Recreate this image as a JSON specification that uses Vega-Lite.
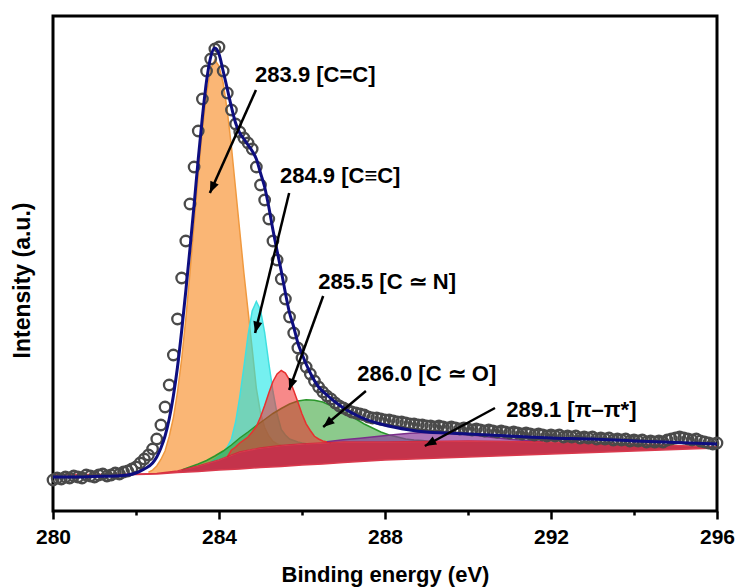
{
  "$schema": "https://vega.github.io/schema/vega-lite/v6.json",
  "width": 664,
  "height": 495,
  "autosize": {"type": "none"},
  "padding": {"left": 53, "top": 16, "right": 19, "bottom": 76},
  "config": {
    "view": {"stroke": "black", "strokeWidth": 3},
    "font": "Liberation Sans, Arial, sans-serif",
    "background": "white"
  },
  "datasets": {
    "bands": [
      {"s": "bg", "x": 280.0, "lo": 36, "hi": 36.5},
      {"s": "bg", "x": 281.0, "lo": 36, "hi": 36.5},
      {"s": "bg", "x": 282.0, "lo": 36.5, "hi": 37},
      {"s": "bg", "x": 282.5, "lo": 37, "hi": 37.5},
      {"s": "bg", "x": 283.0, "lo": 38.5, "hi": 40},
      {"s": "bg", "x": 283.5, "lo": 39.5, "hi": 45},
      {"s": "bg", "x": 284.0, "lo": 41, "hi": 51},
      {"s": "bg", "x": 284.5, "lo": 42, "hi": 59},
      {"s": "bg", "x": 285.0, "lo": 43.5, "hi": 63},
      {"s": "bg", "x": 285.5, "lo": 44.5, "hi": 65.5},
      {"s": "bg", "x": 286.0, "lo": 46, "hi": 67},
      {"s": "bg", "x": 286.5, "lo": 47, "hi": 68},
      {"s": "bg", "x": 287.0, "lo": 48.5, "hi": 69},
      {"s": "bg", "x": 288.0, "lo": 51, "hi": 69},
      {"s": "bg", "x": 289.0, "lo": 52.5, "hi": 69.5},
      {"s": "bg", "x": 290.0, "lo": 54, "hi": 70},
      {"s": "bg", "x": 291.0, "lo": 55.5, "hi": 69.5},
      {"s": "bg", "x": 292.0, "lo": 57, "hi": 69},
      {"s": "bg", "x": 293.0, "lo": 58.5, "hi": 68},
      {"s": "bg", "x": 294.0, "lo": 60, "hi": 67},
      {"s": "bg", "x": 295.0, "lo": 61.5, "hi": 65.5},
      {"s": "bg", "x": 296.0, "lo": 63, "hi": 64},

      {"s": "c1", "x": 282.3, "lo": 36.8, "hi": 38.8},
      {"s": "c1", "x": 282.4, "lo": 36.9, "hi": 40.9},
      {"s": "c1", "x": 282.5, "lo": 37, "hi": 45},
      {"s": "c1", "x": 282.6, "lo": 37.5, "hi": 51.5},
      {"s": "c1", "x": 282.7, "lo": 38, "hi": 60},
      {"s": "c1", "x": 282.8, "lo": 38.5, "hi": 74.5},
      {"s": "c1", "x": 282.9, "lo": 39, "hi": 93},
      {"s": "c1", "x": 283.0, "lo": 40, "hi": 119},
      {"s": "c1", "x": 283.1, "lo": 41, "hi": 152},
      {"s": "c1", "x": 283.2, "lo": 42, "hi": 192},
      {"s": "c1", "x": 283.3, "lo": 43, "hi": 238},
      {"s": "c1", "x": 283.4, "lo": 44, "hi": 287},
      {"s": "c1", "x": 283.5, "lo": 45, "hi": 336},
      {"s": "c1", "x": 283.6, "lo": 46, "hi": 381},
      {"s": "c1", "x": 283.7, "lo": 47.5, "hi": 417.5},
      {"s": "c1", "x": 283.8, "lo": 49, "hi": 442},
      {"s": "c1", "x": 283.9, "lo": 50, "hi": 451},
      {"s": "c1", "x": 284.0, "lo": 51, "hi": 445},
      {"s": "c1", "x": 284.1, "lo": 53, "hi": 428},
      {"s": "c1", "x": 284.2, "lo": 54, "hi": 400},
      {"s": "c1", "x": 284.3, "lo": 56, "hi": 364},
      {"s": "c1", "x": 284.4, "lo": 57, "hi": 322},
      {"s": "c1", "x": 284.5, "lo": 59, "hi": 280},
      {"s": "c1", "x": 284.6, "lo": 60, "hi": 238},
      {"s": "c1", "x": 284.7, "lo": 61, "hi": 200},
      {"s": "c1", "x": 284.8, "lo": 62, "hi": 162},
      {"s": "c1", "x": 284.9, "lo": 62.5, "hi": 122.5},
      {"s": "c1", "x": 285.0, "lo": 63, "hi": 98},
      {"s": "c1", "x": 285.1, "lo": 63.5, "hi": 83.5},
      {"s": "c1", "x": 285.2, "lo": 64, "hi": 75},
      {"s": "c1", "x": 285.3, "lo": 64.5, "hi": 69.5},
      {"s": "c1", "x": 285.4, "lo": 65, "hi": 67},
      {"s": "c1", "x": 285.5, "lo": 65.5, "hi": 65.5},

      {"s": "c2", "x": 283.8, "lo": 49, "hi": 49},
      {"s": "c2", "x": 283.9, "lo": 50, "hi": 52},
      {"s": "c2", "x": 284.0, "lo": 51, "hi": 55},
      {"s": "c2", "x": 284.1, "lo": 53, "hi": 59},
      {"s": "c2", "x": 284.2, "lo": 54, "hi": 64},
      {"s": "c2", "x": 284.3, "lo": 56, "hi": 72},
      {"s": "c2", "x": 284.4, "lo": 57, "hi": 89},
      {"s": "c2", "x": 284.5, "lo": 59, "hi": 114},
      {"s": "c2", "x": 284.6, "lo": 60, "hi": 144},
      {"s": "c2", "x": 284.7, "lo": 61, "hi": 176},
      {"s": "c2", "x": 284.8, "lo": 62, "hi": 200},
      {"s": "c2", "x": 284.9, "lo": 62.5, "hi": 209.5},
      {"s": "c2", "x": 285.0, "lo": 63, "hi": 201},
      {"s": "c2", "x": 285.1, "lo": 63.5, "hi": 178.5},
      {"s": "c2", "x": 285.2, "lo": 64, "hi": 148},
      {"s": "c2", "x": 285.3, "lo": 64.5, "hi": 119.5},
      {"s": "c2", "x": 285.4, "lo": 65, "hi": 97},
      {"s": "c2", "x": 285.5, "lo": 65.5, "hi": 81.5},
      {"s": "c2", "x": 285.6, "lo": 66, "hi": 76},
      {"s": "c2", "x": 285.7, "lo": 66, "hi": 72},
      {"s": "c2", "x": 285.8, "lo": 66.5, "hi": 70.5},
      {"s": "c2", "x": 285.9, "lo": 67, "hi": 69},
      {"s": "c2", "x": 286.0, "lo": 67, "hi": 68},
      {"s": "c2", "x": 286.1, "lo": 67.2, "hi": 67.2},

      {"s": "c4", "x": 283.1, "lo": 41, "hi": 41},
      {"s": "c4", "x": 283.3, "lo": 43, "hi": 44},
      {"s": "c4", "x": 283.5, "lo": 45, "hi": 47},
      {"s": "c4", "x": 283.7, "lo": 47.5, "hi": 50.5},
      {"s": "c4", "x": 283.9, "lo": 50, "hi": 55},
      {"s": "c4", "x": 284.1, "lo": 53, "hi": 60},
      {"s": "c4", "x": 284.3, "lo": 56, "hi": 66},
      {"s": "c4", "x": 284.5, "lo": 59, "hi": 73},
      {"s": "c4", "x": 284.7, "lo": 61, "hi": 79},
      {"s": "c4", "x": 284.9, "lo": 62.5, "hi": 85.5},
      {"s": "c4", "x": 285.1, "lo": 63.5, "hi": 91.5},
      {"s": "c4", "x": 285.3, "lo": 64.5, "hi": 97.5},
      {"s": "c4", "x": 285.5, "lo": 65.5, "hi": 102.5},
      {"s": "c4", "x": 285.7, "lo": 66, "hi": 107},
      {"s": "c4", "x": 285.9, "lo": 67, "hi": 110},
      {"s": "c4", "x": 286.1, "lo": 67.2, "hi": 111.2},
      {"s": "c4", "x": 286.3, "lo": 67.7, "hi": 110.7},
      {"s": "c4", "x": 286.5, "lo": 68, "hi": 109},
      {"s": "c4", "x": 286.7, "lo": 68.2, "hi": 105.2},
      {"s": "c4", "x": 286.9, "lo": 68.7, "hi": 101.7},
      {"s": "c4", "x": 287.1, "lo": 69, "hi": 97},
      {"s": "c4", "x": 287.3, "lo": 69, "hi": 92},
      {"s": "c4", "x": 287.5, "lo": 69, "hi": 87},
      {"s": "c4", "x": 287.7, "lo": 69, "hi": 83},
      {"s": "c4", "x": 287.9, "lo": 69, "hi": 79},
      {"s": "c4", "x": 288.1, "lo": 69, "hi": 76},
      {"s": "c4", "x": 288.3, "lo": 69, "hi": 74},
      {"s": "c4", "x": 288.5, "lo": 69, "hi": 72},
      {"s": "c4", "x": 288.7, "lo": 69, "hi": 71},
      {"s": "c4", "x": 288.9, "lo": 69.5, "hi": 70.5},
      {"s": "c4", "x": 289.1, "lo": 69.5, "hi": 69.5},

      {"s": "c3", "x": 284.2, "lo": 54, "hi": 54},
      {"s": "c3", "x": 284.3, "lo": 56, "hi": 61},
      {"s": "c3", "x": 284.4, "lo": 57, "hi": 64},
      {"s": "c3", "x": 284.5, "lo": 59, "hi": 68},
      {"s": "c3", "x": 284.6, "lo": 60, "hi": 71},
      {"s": "c3", "x": 284.7, "lo": 61, "hi": 74},
      {"s": "c3", "x": 284.8, "lo": 62, "hi": 79},
      {"s": "c3", "x": 284.9, "lo": 62.5, "hi": 84.5},
      {"s": "c3", "x": 285.0, "lo": 63, "hi": 94},
      {"s": "c3", "x": 285.1, "lo": 63.5, "hi": 105.5},
      {"s": "c3", "x": 285.2, "lo": 64, "hi": 118},
      {"s": "c3", "x": 285.3, "lo": 64.5, "hi": 129.5},
      {"s": "c3", "x": 285.4, "lo": 65, "hi": 137},
      {"s": "c3", "x": 285.5, "lo": 65.5, "hi": 140.5},
      {"s": "c3", "x": 285.6, "lo": 66, "hi": 138},
      {"s": "c3", "x": 285.7, "lo": 66, "hi": 131},
      {"s": "c3", "x": 285.8, "lo": 66.5, "hi": 120.5},
      {"s": "c3", "x": 285.9, "lo": 67, "hi": 109},
      {"s": "c3", "x": 286.0, "lo": 67, "hi": 97},
      {"s": "c3", "x": 286.1, "lo": 67.2, "hi": 87.2},
      {"s": "c3", "x": 286.2, "lo": 67.5, "hi": 80.5},
      {"s": "c3", "x": 286.3, "lo": 67.7, "hi": 74.7},
      {"s": "c3", "x": 286.4, "lo": 68, "hi": 72},
      {"s": "c3", "x": 286.5, "lo": 68, "hi": 70},
      {"s": "c3", "x": 286.7, "lo": 68.2, "hi": 68.2},

      {"s": "c5", "x": 286.6, "lo": 68, "hi": 69.2},
      {"s": "c5", "x": 287.0, "lo": 69, "hi": 71.2},
      {"s": "c5", "x": 287.4, "lo": 69, "hi": 72.7},
      {"s": "c5", "x": 287.8, "lo": 69, "hi": 74.5},
      {"s": "c5", "x": 288.2, "lo": 69, "hi": 76.2},
      {"s": "c5", "x": 288.6, "lo": 69.3, "hi": 77.8},
      {"s": "c5", "x": 289.0, "lo": 69.5, "hi": 78.5},
      {"s": "c5", "x": 289.4, "lo": 69.7, "hi": 78.2},
      {"s": "c5", "x": 289.8, "lo": 69.9, "hi": 77.1},
      {"s": "c5", "x": 290.2, "lo": 70, "hi": 75.5},
      {"s": "c5", "x": 290.6, "lo": 69.8, "hi": 73.5},
      {"s": "c5", "x": 291.0, "lo": 69.5, "hi": 71.7},
      {"s": "c5", "x": 291.4, "lo": 69.4, "hi": 70.6},
      {"s": "c5", "x": 291.8, "lo": 69.2, "hi": 69.8}
    ],
    "env": [
      {"x": 280.0, "y": 34}, {"x": 280.5, "y": 34}, {"x": 281.0, "y": 34.5},
      {"x": 281.5, "y": 35}, {"x": 281.8, "y": 36}, {"x": 282.0, "y": 38},
      {"x": 282.2, "y": 42}, {"x": 282.4, "y": 48}, {"x": 282.5, "y": 54},
      {"x": 282.6, "y": 63}, {"x": 282.7, "y": 75}, {"x": 282.8, "y": 92},
      {"x": 282.9, "y": 115}, {"x": 283.0, "y": 144}, {"x": 283.1, "y": 180},
      {"x": 283.2, "y": 220}, {"x": 283.3, "y": 262}, {"x": 283.4, "y": 306},
      {"x": 283.5, "y": 352}, {"x": 283.6, "y": 394}, {"x": 283.7, "y": 430},
      {"x": 283.8, "y": 454}, {"x": 283.9, "y": 463}, {"x": 284.0, "y": 457},
      {"x": 284.1, "y": 440}, {"x": 284.2, "y": 422}, {"x": 284.3, "y": 404},
      {"x": 284.4, "y": 388}, {"x": 284.5, "y": 378}, {"x": 284.6, "y": 372},
      {"x": 284.7, "y": 366}, {"x": 284.8, "y": 360}, {"x": 284.9, "y": 352},
      {"x": 285.0, "y": 338}, {"x": 285.1, "y": 324}, {"x": 285.2, "y": 304},
      {"x": 285.3, "y": 281}, {"x": 285.4, "y": 260}, {"x": 285.5, "y": 240},
      {"x": 285.6, "y": 218}, {"x": 285.7, "y": 198}, {"x": 285.8, "y": 184},
      {"x": 285.9, "y": 168}, {"x": 286.0, "y": 157}, {"x": 286.2, "y": 138},
      {"x": 286.4, "y": 124}, {"x": 286.6, "y": 116}, {"x": 286.8, "y": 109},
      {"x": 287.0, "y": 103}, {"x": 287.4, "y": 94}, {"x": 287.8, "y": 88},
      {"x": 288.2, "y": 84}, {"x": 288.6, "y": 81}, {"x": 289.0, "y": 79},
      {"x": 289.5, "y": 78}, {"x": 290.0, "y": 77}, {"x": 290.5, "y": 76},
      {"x": 291.0, "y": 75}, {"x": 292.0, "y": 73}, {"x": 293.0, "y": 72},
      {"x": 294.0, "y": 70}, {"x": 295.0, "y": 68.5}, {"x": 296.0, "y": 67}
    ],
    "obs": [
      {"x": 280.0, "y": 31}, {"x": 280.1, "y": 33}, {"x": 280.2, "y": 32}, {"x": 280.3, "y": 34},
      {"x": 280.4, "y": 33}, {"x": 280.5, "y": 35}, {"x": 280.6, "y": 34}, {"x": 280.7, "y": 33},
      {"x": 280.8, "y": 36}, {"x": 280.9, "y": 35}, {"x": 281.0, "y": 34}, {"x": 281.1, "y": 36},
      {"x": 281.2, "y": 37}, {"x": 281.3, "y": 35}, {"x": 281.4, "y": 36}, {"x": 281.5, "y": 38},
      {"x": 281.6, "y": 37}, {"x": 281.7, "y": 39}, {"x": 281.8, "y": 40}, {"x": 281.9, "y": 42},
      {"x": 282.0, "y": 44}, {"x": 282.1, "y": 48}, {"x": 282.2, "y": 52}, {"x": 282.3, "y": 56},
      {"x": 282.4, "y": 62}, {"x": 282.5, "y": 72}, {"x": 282.6, "y": 86}, {"x": 282.7, "y": 104},
      {"x": 282.8, "y": 126}, {"x": 282.9, "y": 156}, {"x": 283.0, "y": 192}, {"x": 283.1, "y": 233},
      {"x": 283.2, "y": 270}, {"x": 283.3, "y": 307}, {"x": 283.4, "y": 344}, {"x": 283.5, "y": 380},
      {"x": 283.6, "y": 412}, {"x": 283.7, "y": 440}, {"x": 283.8, "y": 452}, {"x": 283.9, "y": 462},
      {"x": 284.0, "y": 464}, {"x": 284.1, "y": 440}, {"x": 284.2, "y": 418}, {"x": 284.3, "y": 401},
      {"x": 284.4, "y": 387}, {"x": 284.5, "y": 379}, {"x": 284.6, "y": 373}, {"x": 284.7, "y": 368},
      {"x": 284.8, "y": 362}, {"x": 284.9, "y": 344}, {"x": 285.0, "y": 326}, {"x": 285.1, "y": 311},
      {"x": 285.2, "y": 292}, {"x": 285.3, "y": 270}, {"x": 285.4, "y": 251}, {"x": 285.5, "y": 232},
      {"x": 285.6, "y": 212}, {"x": 285.7, "y": 194}, {"x": 285.8, "y": 178}, {"x": 285.9, "y": 163},
      {"x": 286.0, "y": 153}, {"x": 286.1, "y": 144}, {"x": 286.2, "y": 137}, {"x": 286.3, "y": 130},
      {"x": 286.4, "y": 124}, {"x": 286.5, "y": 119}, {"x": 286.6, "y": 115}, {"x": 286.7, "y": 112},
      {"x": 286.8, "y": 108}, {"x": 286.9, "y": 105}, {"x": 287.0, "y": 103}, {"x": 287.1, "y": 101},
      {"x": 287.2, "y": 99}, {"x": 287.3, "y": 98}, {"x": 287.4, "y": 97}, {"x": 287.5, "y": 96},
      {"x": 287.6, "y": 94}, {"x": 287.7, "y": 93}, {"x": 287.8, "y": 93}, {"x": 287.9, "y": 92},
      {"x": 288.0, "y": 91}, {"x": 288.1, "y": 91}, {"x": 288.2, "y": 90}, {"x": 288.3, "y": 89},
      {"x": 288.4, "y": 89}, {"x": 288.5, "y": 88}, {"x": 288.6, "y": 87}, {"x": 288.7, "y": 87},
      {"x": 288.8, "y": 86}, {"x": 288.9, "y": 86}, {"x": 289.0, "y": 85}, {"x": 289.1, "y": 85},
      {"x": 289.2, "y": 84}, {"x": 289.3, "y": 85}, {"x": 289.4, "y": 84}, {"x": 289.5, "y": 83},
      {"x": 289.6, "y": 84}, {"x": 289.7, "y": 83}, {"x": 289.8, "y": 82}, {"x": 289.9, "y": 83},
      {"x": 290.0, "y": 82}, {"x": 290.1, "y": 81}, {"x": 290.2, "y": 82}, {"x": 290.3, "y": 81},
      {"x": 290.4, "y": 80}, {"x": 290.5, "y": 81}, {"x": 290.6, "y": 80}, {"x": 290.7, "y": 79},
      {"x": 290.8, "y": 80}, {"x": 290.9, "y": 79}, {"x": 291.0, "y": 78}, {"x": 291.1, "y": 79},
      {"x": 291.2, "y": 78}, {"x": 291.3, "y": 77}, {"x": 291.4, "y": 78}, {"x": 291.5, "y": 77},
      {"x": 291.6, "y": 76}, {"x": 291.7, "y": 77}, {"x": 291.8, "y": 76}, {"x": 291.9, "y": 75},
      {"x": 292.0, "y": 76}, {"x": 292.1, "y": 75}, {"x": 292.2, "y": 76}, {"x": 292.3, "y": 74},
      {"x": 292.4, "y": 75}, {"x": 292.5, "y": 74}, {"x": 292.6, "y": 75}, {"x": 292.7, "y": 73},
      {"x": 292.8, "y": 74}, {"x": 292.9, "y": 73}, {"x": 293.0, "y": 74}, {"x": 293.1, "y": 72},
      {"x": 293.2, "y": 73}, {"x": 293.3, "y": 72}, {"x": 293.4, "y": 73}, {"x": 293.5, "y": 71},
      {"x": 293.6, "y": 72}, {"x": 293.7, "y": 71}, {"x": 293.8, "y": 72}, {"x": 293.9, "y": 70},
      {"x": 294.0, "y": 71}, {"x": 294.1, "y": 70}, {"x": 294.2, "y": 71}, {"x": 294.3, "y": 69},
      {"x": 294.4, "y": 70}, {"x": 294.5, "y": 69}, {"x": 294.6, "y": 70}, {"x": 294.7, "y": 69},
      {"x": 294.8, "y": 71}, {"x": 294.9, "y": 72}, {"x": 295.0, "y": 73}, {"x": 295.1, "y": 74},
      {"x": 295.2, "y": 73}, {"x": 295.3, "y": 72}, {"x": 295.4, "y": 71}, {"x": 295.5, "y": 72},
      {"x": 295.6, "y": 70}, {"x": 295.7, "y": 69}, {"x": 295.8, "y": 68}, {"x": 295.9, "y": 67},
      {"x": 296.0, "y": 68}
    ],
    "arrows": [
      {"x": 284.89, "y": 421, "x2": 283.78, "y2": 318},
      {"x": 285.69, "y": 318, "x2": 284.87, "y2": 178},
      {"x": 286.51, "y": 215, "x2": 285.69, "y2": 121},
      {"x": 287.54, "y": 120, "x2": 286.51, "y2": 84},
      {"x": 290.65, "y": 103, "x2": 288.96, "y2": 65}
    ],
    "labels": [
      {"x": 284.87, "y": 436, "t": "283.9 [C=C]"},
      {"x": 285.47, "y": 335, "t": "284.9 [C≡C]"},
      {"x": 286.39, "y": 229, "t": "285.5 [C ≃ N]"},
      {"x": 287.33, "y": 137, "t": "286.0 [C ≃  O]"},
      {"x": 290.92, "y": 101, "t": "289.1 [π–π*]"}
    ]
  },
  "layer": [
    {
      "data": {"name": "bands"},
      "transform": [{"filter": "datum.s === 'c1'"}],
      "mark": {"type": "area", "color": "#F8973A", "opacity": 0.7, "line": {"color": "#F0993F", "strokeWidth": 1.5}},
      "encoding": {
        "x": {"field": "x", "type": "quantitative", "scale": {"domain": [280, 296], "nice": false},
          "axis": {
            "values": [280, 282, 284, 286, 288, 290, 292, 294, 296],
            "labelExpr": "datum.value % 4 === 0 ? datum.label : ''",
            "tickSize": {"condition": {"test": "datum.value % 4 === 0", "value": 8}, "value": 4},
            "tickWidth": 2.5, "tickColor": "black", "domain": false, "grid": false,
            "labelFontSize": 21, "labelFontWeight": "bold", "labelColor": "black",
            "labelPadding": 7, "labelFlush": false, "labelOverlap": false,
            "title": "Binding energy (eV)", "titleFontSize": 22, "titleFontWeight": "bold",
            "titleColor": "black", "titlePadding": 17
          }},
        "y": {"field": "hi", "type": "quantitative", "scale": {"domain": [0, 495], "nice": false},
          "axis": {"labels": false, "ticks": false, "domain": false, "grid": false,
            "title": "Intensity (a.u.)", "titleFontSize": 23, "titleFontWeight": "bold",
            "titleColor": "black", "titlePadding": 19, "titleY": 264}},
        "y2": {"field": "lo"}
      }
    },
    {
      "data": {"name": "bands"},
      "transform": [{"filter": "datum.s === 'c2'"}],
      "mark": {"type": "area", "color": "#19E6E6", "opacity": 0.6, "line": {"color": "#40E0E0", "strokeWidth": 1.5}},
      "encoding": {
        "x": {"field": "x", "type": "quantitative"},
        "y": {"field": "hi", "type": "quantitative"},
        "y2": {"field": "lo"}
      }
    },
    {
      "data": {"name": "bands"},
      "transform": [{"filter": "datum.s === 'c4'"}],
      "mark": {"type": "area", "color": "#2E9E2E", "opacity": 0.55, "line": {"color": "#2A962A", "strokeWidth": 1.5}},
      "encoding": {
        "x": {"field": "x", "type": "quantitative"},
        "y": {"field": "hi", "type": "quantitative"},
        "y2": {"field": "lo"}
      }
    },
    {
      "data": {"name": "bands"},
      "transform": [{"filter": "datum.s === 'c3'"}],
      "mark": {"type": "area", "color": "#F02828", "opacity": 0.55, "line": {"color": "#E8302F", "strokeWidth": 1.5}},
      "encoding": {
        "x": {"field": "x", "type": "quantitative"},
        "y": {"field": "hi", "type": "quantitative"},
        "y2": {"field": "lo"}
      }
    },
    {
      "data": {"name": "bands"},
      "transform": [{"filter": "datum.s === 'c5'"}],
      "mark": {"type": "area", "color": "#8B3A9A", "opacity": 0.7, "line": {"color": "#7A2E8A", "strokeWidth": 1.5}},
      "encoding": {
        "x": {"field": "x", "type": "quantitative"},
        "y": {"field": "hi", "type": "quantitative"},
        "y2": {"field": "lo"}
      }
    },
    {
      "data": {"name": "bands"},
      "transform": [{"filter": "datum.s === 'bg'"}],
      "mark": {"type": "area", "color": "#BE1E38", "opacity": 0.9, "stroke": "#D6243A", "strokeWidth": 1.5},
      "encoding": {
        "x": {"field": "x", "type": "quantitative"},
        "y": {"field": "hi", "type": "quantitative"},
        "y2": {"field": "lo"}
      }
    },
    {
      "data": {"name": "obs"},
      "mark": {"type": "point", "filled": false, "stroke": "#4a4a4a", "strokeWidth": 2.3, "size": 110, "opacity": 1},
      "encoding": {
        "x": {"field": "x", "type": "quantitative"},
        "y": {"field": "y", "type": "quantitative"}
      }
    },
    {
      "data": {"name": "env"},
      "mark": {"type": "line", "color": "#0E0E80", "strokeWidth": 3, "interpolate": "monotone"},
      "encoding": {
        "x": {"field": "x", "type": "quantitative"},
        "y": {"field": "y", "type": "quantitative"}
      }
    },
    {
      "data": {"name": "arrows"},
      "mark": {"type": "rule", "color": "black", "strokeWidth": 2.5},
      "encoding": {
        "x": {"field": "x", "type": "quantitative"},
        "y": {"field": "y", "type": "quantitative"},
        "x2": {"field": "x2"},
        "y2": {"field": "y2"}
      }
    },
    {
      "data": {"name": "arrows"},
      "transform": [{"calculate": "atan2((datum.x2 - datum.x) * 41.5, datum.y2 - datum.y) * 180 / PI", "as": "ang"}],
      "mark": {"type": "point", "shape": "M0,0L-0.4,1L0.4,1Z", "filled": true, "color": "black", "size": 520, "opacity": 1},
      "encoding": {
        "x": {"field": "x2", "type": "quantitative"},
        "y": {"field": "y2", "type": "quantitative"},
        "angle": {"field": "ang", "type": "quantitative", "scale": null}
      }
    },
    {
      "data": {"name": "labels"},
      "mark": {"type": "text", "align": "left", "baseline": "middle", "fontSize": 22, "fontWeight": "bold", "color": "black"},
      "encoding": {
        "x": {"field": "x", "type": "quantitative"},
        "y": {"field": "y", "type": "quantitative"},
        "text": {"field": "t"}
      }
    }
  ]
}
